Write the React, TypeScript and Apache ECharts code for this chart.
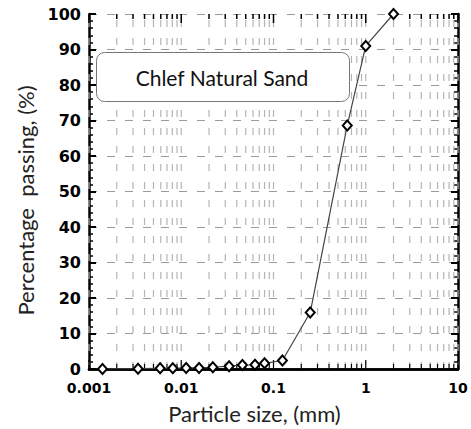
import React, { useEffect, useRef } from "react";
import * as echarts from "echarts";

// Particle size (mm) and percentage passing (%)
const particleSize = [0.0014, 0.0034, 0.0059, 0.0081, 0.0113, 0.0156, 0.022, 0.033, 0.046, 0.063, 0.08, 0.125, 0.25, 0.63, 1, 2];
const percentPassing = [0, 0.1, 0.2, 0.2, 0.3, 0.3, 0.5, 0.8, 1.1, 1.2, 1.6, 2.4, 15.9, 68.6, 91, 100];

const xTickLabels = ["0.001", "0.01", "0.1", "1", "10"];
const decades = [0.001, 0.01, 0.1, 1];
const multipliers = [1, 2, 3, 4, 5, 6, 7, 8, 9];
const boxLabel = "Chlef Natural Sand";

const gridValues: number[] = [];
decades.forEach((d) => multipliers.forEach((m) => gridValues.push(+(d * m).toPrecision(3))));
gridValues.push(10);

export default function App() {
  const ref = useRef<HTMLDivElement>(null);
  useEffect(() => {
    if (!ref.current) return;
    const chart = echarts.init(ref.current, null, { renderer: "svg" });
    const labelFont = { fontFamily: "DejaVu Sans", fontWeight: "bold" as const, color: "#000" };
    chart.setOption({
      animation: false,
      backgroundColor: "#fff",
      grid: { left: 89, top: 14, right: 13, bottom: 60, containLabel: false },
      xAxis: [
        {
          type: "log",
          logBase: 10,
          min: 0.001,
          max: 10,
          position: "bottom",
          axisLine: { show: true, lineStyle: { color: "#000", width: 2.5 } },
          axisTick: { show: false },
          splitLine: { show: false },
          axisLabel: {
            ...labelFont,
            fontSize: 14,
            margin: 12,
            formatter: (v: number) => {
              const i = Math.round(Math.log10(v)) + 3;
              return xTickLabels[i] ?? "";
            },
          },
          name: "Particle size, (mm)",
          nameLocation: "middle",
          nameGap: 33,
          nameTextStyle: { fontFamily: "Lato", fontSize: 22, color: "#222", padding: [0, 38, 0, 0] },
        },
        {
          type: "log",
          logBase: 10,
          min: 0.001,
          max: 10,
          position: "top",
          axisLine: { show: true, lineStyle: { color: "#000", width: 2.5 } },
          axisTick: { show: false },
          axisLabel: { show: false },
          splitLine: { show: false },
        },
      ],
      yAxis: [
        {
          type: "value",
          min: 0,
          max: 100,
          interval: 10,
          position: "left",
          axisLine: { show: true, lineStyle: { color: "#000", width: 2.5 } },
          axisTick: { show: true, inside: true, length: 7, lineStyle: { color: "#000", width: 2 } },
          minorTick: { show: true, splitNumber: 5, length: 4, lineStyle: { color: "#000", width: 1.5 } },
          splitLine: { show: true, lineStyle: { color: "#9a9a9a", width: 1, type: [8, 10] } },
          axisLabel: { ...labelFont, fontSize: 16, margin: 8 },
          name: "Percentage  passing, (%)",
          nameLocation: "middle",
          nameGap: 52,
          nameTextStyle: { fontFamily: "Lato", fontSize: 22, color: "#222", padding: [0, 18, 0, 0] },
        },
        {
          type: "value",
          min: 0,
          max: 100,
          interval: 10,
          position: "right",
          axisLine: { show: true, lineStyle: { color: "#000", width: 2.5 } },
          axisTick: { show: true, inside: true, length: 7, lineStyle: { color: "#000", width: 2 } },
          minorTick: { show: true, splitNumber: 5, length: 4, lineStyle: { color: "#000", width: 1.5 } },
          splitLine: { show: false },
          axisLabel: { show: false },
        },
      ],
      series: [
        {
          type: "custom",
          xAxisIndex: 0,
          yAxisIndex: 0,
          silent: true,
          z: 1,
          data: gridValues.map((v) => [v, 0]),
          renderItem: (params: any, api: any) => {
            const v = api.value(0);
            const [x, yb] = api.coord([v, 0]);
            const yt = api.coord([v, 100])[1];
            const isDecade = Math.abs(Math.log10(v) - Math.round(Math.log10(v))) < 1e-6;
            const tl = isDecade ? 9 : 5;
            return {
              type: "group",
              children: [
                {
                  type: "line",
                  shape: { x1: x, y1: yt + 6, x2: x, y2: yb - 4 },
                  style: { stroke: "#b5b5b5", lineWidth: 1.2, lineDash: [7, 11] },
                },
                {
                  type: "line",
                  shape: { x1: x, y1: yb, x2: x, y2: yb - tl },
                  style: { stroke: "#000", lineWidth: 1.2 },
                },
                {
                  type: "line",
                  shape: { x1: x, y1: yt, x2: x, y2: yt + tl },
                  style: { stroke: "#000", lineWidth: 1.5 },
                },
              ],
            };
          },
        },
        {
          type: "line",
          xAxisIndex: 0,
          yAxisIndex: 0,
          z: 5,
          data: particleSize.map((x, i) => [x, percentPassing[i]]),
          lineStyle: { color: "#444", width: 1.2 },
          symbol: "diamond",
          symbolSize: [9, 10],
          itemStyle: { color: "#fff", borderColor: "#000", borderWidth: 2 },
        },
      ],
      graphic: [
        {
          type: "rect",
          left: 96,
          top: 52,
          shape: { width: 253, height: 49, r: 8 },
          style: { fill: "#fff", stroke: "#777", lineWidth: 1 },
          z: 10,
        },
        {
          type: "text",
          x: 222,
          y: 77,
          style: {
            text: boxLabel,
            fontFamily: "Lato",
            fontSize: 21,
            fill: "#111",
            align: "center",
            verticalAlign: "middle",
          },
          z: 11,
        },
      ],
    });
    return () => chart.dispose();
  }, []);
  return <div ref={ref} style={{ width: 471, height: 429, position: "absolute", left: 0, top: 0 }} />;
}
